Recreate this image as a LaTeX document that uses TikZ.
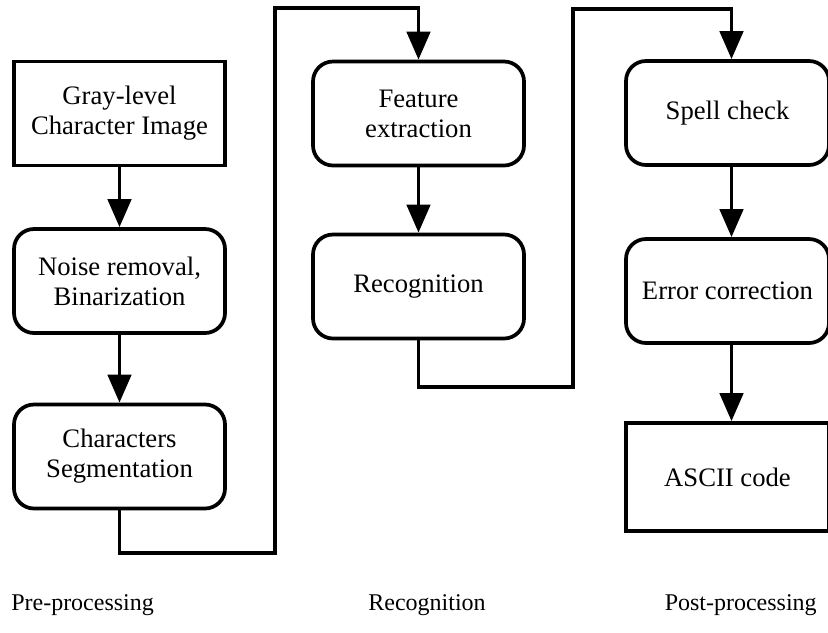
\documentclass[tikz,border=0pt]{standalone}
\usepackage{fontspec}
\setmainfont{Liberation Serif}
\usetikzlibrary{arrows.meta}
\begin{document}
\begin{tikzpicture}[x=0.75pt,y=-0.75pt,
  base/.style={draw, line width=2.8pt, minimum height=78pt, align=center,
    font=\fontsize{20}{22.5}\selectfont, inner sep=0pt},
  sharpbox/.style={base},
  roundbox/.style={base, rounded corners=15pt},
  leftcol/.style={minimum width=158.25pt},
  rightcol/.style={minimum width=152.25pt},
  link/.style={line width=2.8pt},
  arrowed/.style={link, -{Triangle[length=21pt,width=17.5pt]}},
  caption/.style={font=\fontsize{18}{21}\selectfont, inner sep=0pt}
]
\useasboundingbox (0,0) rectangle (828,632);

% pre-processing column
\node[sharpbox, leftcol] (gray) at (119.5,113.5) {Gray-level\\Character Image};
\node[roundbox, leftcol] (noise) at (119.5,281) {Noise removal,\\Binarization};
\node[roundbox, leftcol] (seg) at (119.5,456.5) {Characters\\Segmentation};

% recognition column
\node[roundbox, leftcol] (feat) at (418.5,113.5) {Feature\\extraction};
\node[roundbox, leftcol] (recog) at (418.5,286.5) {Recognition};

% post-processing column (runs past the right border)
\node[roundbox, rightcol] (spell) at (727.5,113) {Spell check};
\node[roundbox, rightcol] (err) at (727.5,291) {Error correction};
\node[sharpbox, rightcol, minimum height=81pt] (ascii) at (727.5,477) {ASCII code};

% stage captions
\node[caption, anchor=west] (capA) at (11,605) {Pre-processing};
\node[caption] (capB) at (427,605) {Recognition};
\node[caption, anchor=east] (capC) at (817,605) {Post-processing};

% bends of the links between columns
\coordinate (b1) at (275,553);
\coordinate (b2) at (275,8);
\coordinate (b3) at (573,387);
\coordinate (b4) at (573,9);

% arrows inside the columns
\draw[arrowed] (gray) -- (noise);
\draw[arrowed] (noise) -- (seg);
\draw[arrowed] (feat) -- (recog);
\draw[arrowed] ([xshift=3pt]spell.south) -- ([xshift=3pt]err.north);
\draw[arrowed] ([xshift=3pt]err.south) -- ([xshift=3pt]ascii.north);

% links between columns
\draw[arrowed] (seg.south) |- (b1) -- (b2) -| (feat.north);
\draw[arrowed] (recog.south) |- (b3) -- (b4) -| ([xshift=3pt]spell.north);
\end{tikzpicture}
\end{document}
